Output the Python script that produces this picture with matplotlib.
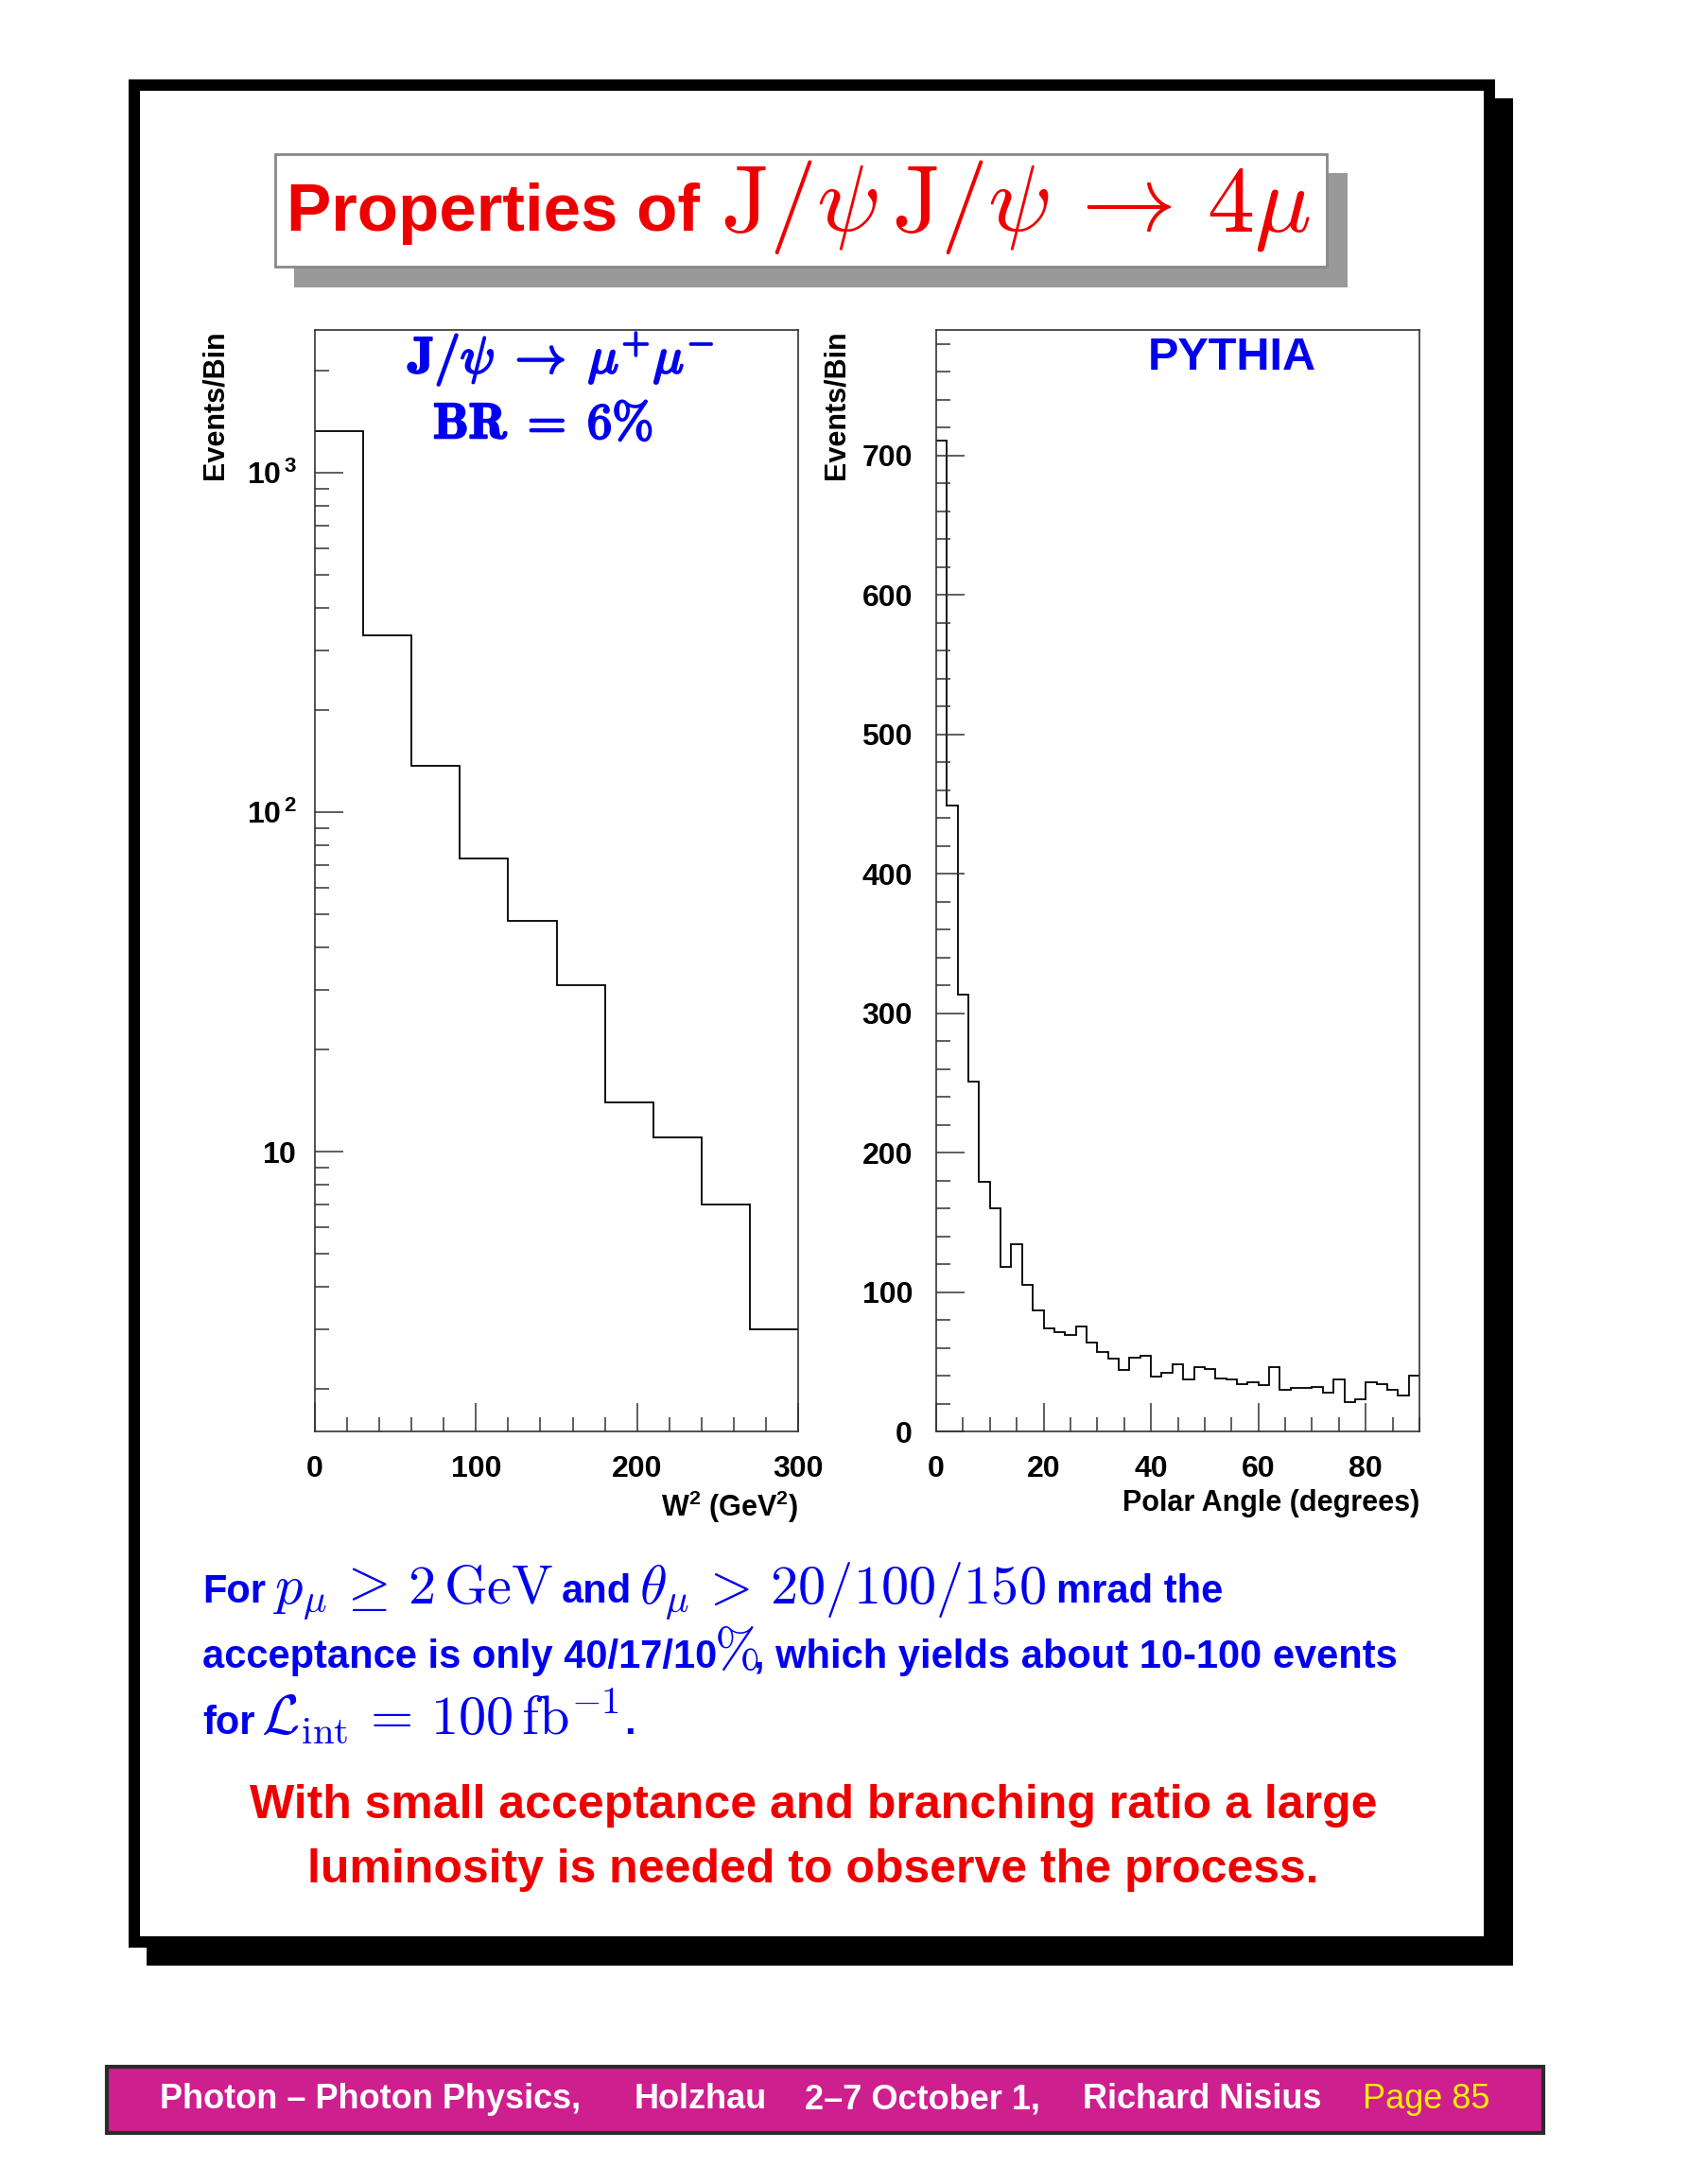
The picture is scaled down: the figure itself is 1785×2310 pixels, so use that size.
import numpy as np
import matplotlib
matplotlib.use("Agg")
import matplotlib.pyplot as plt
import matplotlib.patheffects as pe
from matplotlib.patches import Rectangle
from matplotlib.ticker import FixedLocator, MultipleLocator, LogLocator, NullFormatter

# ---------------- data ----------------
w2_edges = [0, 30, 60, 90, 120, 150, 180, 210, 240, 270, 300]
w2_counts = [1325, 333, 137, 73, 48, 31, 14, 11, 7, 3]

angle_edges = list(range(0, 91, 2))
angle_counts = [711, 449, 313, 251, 179, 160, 118, 134, 105, 87,
                74, 71, 69, 75, 64, 57, 52, 44, 53, 54,
                39, 42, 48, 37, 46, 45, 38, 37, 34, 35,
                33, 46, 30, 31, 31, 32, 28, 37, 21, 23,
                35, 34, 30, 26, 40]

w2_ticks = [0, 100, 200, 300]
w2_ticklabels = ["0", "100", "200", "300"]
log_ticks = [10, 100, 1000]
log_ticklabels = [r"$10$", r"$10^{\,2}$", r"$10^{\,3}$"]
angle_xticks = [0, 20, 40, 60, 80]
angle_yticks = [0, 100, 200, 300, 400, 500, 600, 700]

# ---------------- style ----------------
W, H = 1785, 2310
DPI = 100
plt.rcParams["font.family"] = ["Liberation Sans", "DejaVu Sans"]
plt.rcParams["font.weight"] = "bold"
plt.rcParams["axes.labelweight"] = "bold"
plt.rcParams["mathtext.fontset"] = "custom"
plt.rcParams["mathtext.rm"] = "Liberation Sans:bold"
plt.rcParams["mathtext.bf"] = "Liberation Sans:bold"
plt.rcParams["mathtext.it"] = "Liberation Sans:bold:italic"

BLUE = "#0000EE"
RED = "#EE0000"
MAGENTA = "#CE1F8E"

fig = plt.figure(figsize=(W / DPI, H / DPI), dpi=DPI)
fig.patch.set_facecolor("white")


def fx(px):
    return px / W


def fy(py):
    return 1 - py / H


def prect(x0, y0, x1, y1, **kw):
    r = Rectangle((fx(x0), fy(y1)), fx(x1) - fx(x0), fy(y0) - fy(y1),
                  transform=fig.transFigure, **kw)
    fig.add_artist(r)
    return r


def ptext(x, y, s, **kw):
    kw.setdefault("ha", "left")
    kw.setdefault("va", "baseline")
    kw.setdefault("zorder", 5)
    return fig.text(fx(x), fy(y), s, **kw)


# page frame with shadow
prect(155, 104, 1600, 2079, facecolor="black", edgecolor="none", zorder=-3)
prect(136, 84, 1581, 2060, facecolor="black", edgecolor="none", zorder=-2.9)
prect(148, 96, 1569, 2048, facecolor="white", edgecolor="none", zorder=-2.8)

# title box
prect(311, 183, 1425, 304, facecolor="#999999", edgecolor="none", zorder=-2.7)
prect(291, 163, 1403, 282, facecolor="white", edgecolor="#888888", lw=2, zorder=-2.6)
ptext(303, 244, "Properties of", color=RED, fontsize=51, fontweight="bold")
tkw = dict(color=RED, fontsize=72, math_fontfamily="cm")
ptext(762, 244, r"$\mathrm{J}/\psi\,\mathrm{J}/\psi$", **tkw)
ptext(1126, 244, r"$\rightarrow$", **tkw)
ptext(1276, 244, r"$4\mu$", **tkw)

# ---------------- axes ----------------
TICK_MAJ = 21.5
TICK_MIN = 10.8
LBL = 23

ax1 = fig.add_axes([fx(333), fy(1514), fx(844) - fx(333), fy(349) - fy(1514)])
ax2 = fig.add_axes([fx(990), fy(1514), fx(1501) - fx(990), fy(349) - fy(1514)])

for ax in (ax1, ax2):
    ax.set_zorder(2)
    ax.set_facecolor("white")
    for s in ax.spines.values():
        s.set_color("#333333")
        s.set_linewidth(1.2)
    ax.tick_params(which="both", direction="in", color="#333333", width=1.1,
                   top=False, right=False, labelsize=LBL, pad=18)
    ax.tick_params(which="major", length=TICK_MAJ)
    ax.tick_params(which="minor", length=TICK_MIN)

# left: W^2 log histogram
ax1.stairs(w2_counts, w2_edges, baseline=None, color="black", lw=1.3)
ax1.set_yscale("log")
ax1.set_xlim(0, 300)
ax1.set_ylim(1.5, 2640)
ax1.xaxis.set_major_locator(FixedLocator(w2_ticks))
ax1.set_xticklabels(w2_ticklabels)
ax1.xaxis.set_minor_locator(MultipleLocator(20))
ax1.yaxis.set_major_locator(FixedLocator(log_ticks))
ax1.set_yticklabels(log_ticklabels)
ax1.yaxis.set_minor_locator(LogLocator(base=10, subs=np.arange(2, 10)))
ax1.yaxis.set_minor_formatter(NullFormatter())
ax1.tick_params(axis="y", which="both", pad=14)
ax1.set_xlabel(r"W$^{2}$ (GeV$^{2}$)", fontsize=22, fontweight="bold",
               loc="right", labelpad=4)
ax1.set_ylabel("Events/Bin", fontsize=22, fontweight="bold", loc="top")
ax1.yaxis.set_label_coords(-0.178, 1.0)

bold_fx = [pe.withStroke(linewidth=1.6, foreground=BLUE)]
ax1.text(0.51, 0.973, r"$\mathbf{J}/\psi\;\rightarrow\;\mu^{+}\mu^{-}$",
         transform=ax1.transAxes, color=BLUE, fontsize=39, math_fontfamily="cm",
         ha="center", va="center", path_effects=bold_fx)
ax1.text(0.472, 0.914, r"$\mathbf{BR}\;=\;\mathbf{6\%}$",
         transform=ax1.transAxes, color=BLUE, fontsize=38, math_fontfamily="cm",
         ha="center", va="center", path_effects=bold_fx)

# right: polar angle histogram
ax2.stairs(angle_counts, angle_edges, baseline=None, color="black", lw=1.3)
ax2.set_xlim(0, 90)
ax2.set_ylim(0, 790)
ax2.xaxis.set_major_locator(FixedLocator(angle_xticks))
ax2.xaxis.set_minor_locator(MultipleLocator(5))
ax2.yaxis.set_major_locator(FixedLocator(angle_yticks))
ax2.yaxis.set_minor_locator(MultipleLocator(20))
ax2.set_xlabel("Polar Angle (degrees)", fontsize=22, fontweight="bold",
               loc="right", labelpad=4)
ax2.set_ylabel("Events/Bin", fontsize=22, fontweight="bold", loc="top")
ax2.yaxis.set_label_coords(-0.178, 1.0)
ax2.text(0.613, 0.975, "PYTHIA", transform=ax2.transAxes, color=BLUE,
         fontsize=35, fontweight="bold", ha="center", va="center")

# ---------------- text block ----------------
TXT = 30
MTH = 42
bkw = dict(color=BLUE, fontsize=TXT, fontweight="bold")
mkw = dict(color=BLUE, fontsize=MTH, math_fontfamily="cm")
# line 1
ptext(214, 1695, "For", **bkw)
ptext(289, 1695, r"$p_{\mu}\,\geq\,2\,\mathrm{GeV}$", **mkw)
ptext(594, 1695, "and", **bkw)
ptext(676, 1695, r"$\theta_{\mu}\,>\,20/100/150$", **mkw)
ptext(1117, 1695, "mrad the", **bkw)
# line 2
ptext(214, 1764, "acceptance is only 40/17/10", **bkw)
ptext(755, 1764, r"$\%$", **mkw)
ptext(797, 1764, ", which yields about 10-100 events", **bkw)
# line 3
ptext(214, 1834, "for", **bkw)
ptext(276, 1834, r"$\mathcal{L}_{\mathrm{int}}\,=\,100\,\mathrm{fb}^{-1}$", **mkw)
ptext(660, 1834, ".", **bkw)

ptext(860, 1923, "With small acceptance and branching ratio a large",
      color=RED, fontsize=36, fontweight="bold", ha="center")
ptext(860, 1991, "luminosity is needed to observe the process.",
      color=RED, fontsize=36, fontweight="bold", ha="center")

# ---------------- footer ----------------
prect(113, 2186, 1632, 2256, facecolor=MAGENTA, edgecolor="#2a2a2a", lw=3, zorder=-2)
FT = 26
fb = 2230
ptext(169, fb, "Photon \u2013 Photon Physics,", color="white", fontsize=FT, fontweight="bold")
ptext(671, fb, "Holzhau", color="white", fontsize=FT, fontweight="bold")
ptext(851, fb, "2\u20137 October 1,", color="white", fontsize=FT, fontweight="bold")
ptext(1145, fb, "Richard Nisius", color="white", fontsize=FT, fontweight="bold")
ptext(1441, fb, "Page 85", color="#FFEE00", fontsize=FT, fontweight="normal")

fig.savefig("out.png", dpi=DPI, facecolor="white")
